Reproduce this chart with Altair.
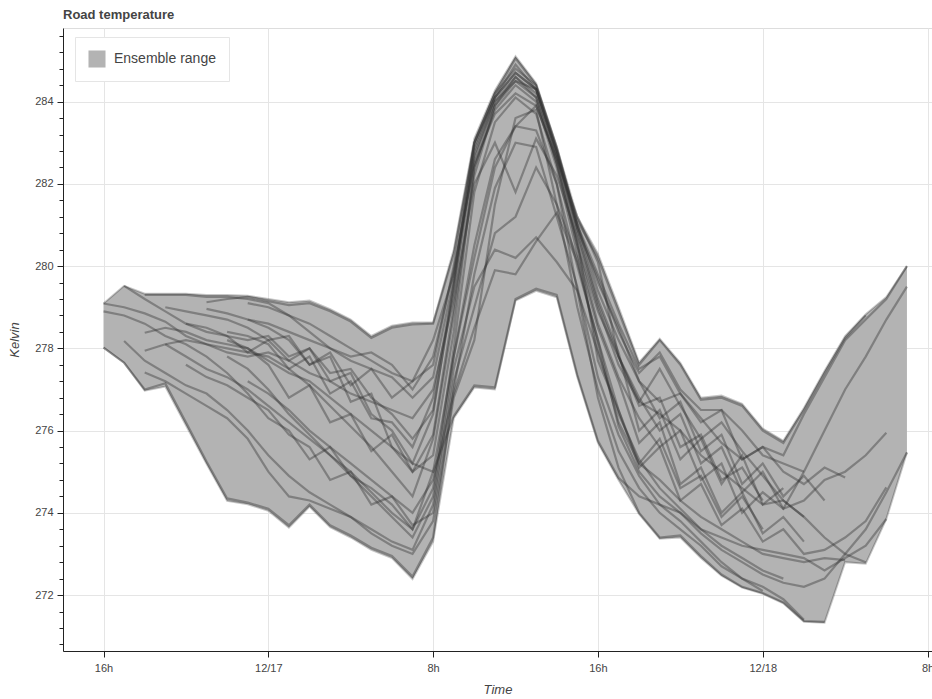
import altair as alt
import pandas as pd

# ---------------- data (hourly, starting 2016-12-16 16:00) ----------------
START = "2016-12-16 16:00"
N_HOURS = 40

band_lo = [278.02, 277.65, 276.97, 277.07, 276.13, 275.19, 274.29, 274.21, 274.05, 273.64,
           274.15, 273.65, 273.40, 273.10, 272.90, 272.39, 273.30, 276.30, 277.05, 277.00,
           279.16, 279.40, 279.24, 277.30, 275.70, 274.80, 273.97, 273.37, 273.40, 272.90,
           272.47, 272.18, 272.03, 271.80, 271.35, 271.33, 272.80, 272.76, 273.85, 275.47]
band_hi = [279.09, 279.52, 279.33, 279.33, 279.33, 279.30, 279.30, 279.28, 279.20, 279.12,
           279.16, 278.95, 278.70, 278.30, 278.55, 278.63, 278.63, 280.40, 283.10, 284.27,
           285.10, 284.45, 282.90, 281.20, 280.30, 279.00, 277.66, 278.23, 277.65, 276.80,
           276.85, 276.65, 276.05, 275.75, 276.55, 277.45, 278.30, 278.83, 279.25, 280.00]

A1 = [279.09, 279.00, 278.85, 278.65, 278.30, 278.10, 278.00, 277.90, 277.80, 277.50, 277.10,
      276.60, 276.10, 275.60, 275.00, 274.40, 275.80, 278.80, 282.20, 283.90, 284.60, 284.10,
      282.50, 280.50, 278.90, 277.80, 276.60, 276.80, 275.60, 275.90, 274.80, 275.10, 274.30]
A2 = [278.90, 278.80, 278.60, 278.30, 278.10, 277.80, 277.40, 276.90, 276.30, 276.00, 275.30,
      275.60, 274.90, 274.60, 274.20, 273.60, 275.00, 277.80, 280.50, 282.60, 283.40, 283.30,
      282.00, 280.00, 278.20, 276.50, 275.20, 275.80, 274.60, 274.90, 273.90, 274.40, 273.60]
A3 = [278.02, 277.65, 277.00, 277.15, 276.20, 275.25, 274.35, 274.25, 274.10, 273.70, 274.20,
      273.70, 273.45, 273.15, 272.95, 272.45, 273.40, 277.00, 279.80, 281.90, 283.00, 282.90,
      281.20, 279.50, 277.30, 275.90, 274.90, 274.20, 273.80, 273.30, 272.80, 272.40, 272.10]
B1 = [279.52, 279.20, 278.90, 278.60, 278.40, 278.30, 277.90, 278.20, 277.70, 278.00, 277.40,
      277.50, 276.80, 276.40, 275.80, 276.50, 279.40, 282.80, 284.10, 284.70, 284.30, 282.80,
      280.90, 279.20, 277.90, 276.00, 276.50, 275.30, 275.80, 274.70, 275.40, 274.20, 274.60]
B2 = [278.18, 277.70, 277.40, 277.10, 276.90, 276.50, 276.00, 275.40, 274.90, 274.50, 274.20,
      273.90, 273.60, 273.30, 273.10, 274.20, 277.50, 279.50, 280.40, 280.20, 280.70, 280.10,
      279.40, 277.90, 276.40, 275.30, 274.60, 274.10, 273.60, 273.20, 272.90, 272.60, 272.40]
C1 = [278.38, 278.50, 278.40, 278.20, 278.10, 278.00, 277.60, 276.80, 277.10, 276.20, 276.40,
      275.50, 275.90, 275.00, 275.40, 278.40, 282.40, 283.80, 284.40, 284.00, 282.40, 280.30,
      278.50, 277.20, 275.70, 276.20, 274.70, 275.10, 274.00, 274.50, 273.50, 273.90, 273.30]
C2 = [277.94, 278.10, 278.20, 278.10, 277.90, 277.80, 277.90, 277.70, 277.40, 277.20, 276.90,
      276.70, 276.50, 276.30, 277.00, 279.20, 282.00, 283.00, 281.80, 283.10, 282.20, 280.70,
      279.00, 277.60, 276.70, 276.40, 276.00, 275.40, 275.00, 274.60, 274.20, 274.30, 273.90]
C3 = [277.41, 277.20, 276.90, 276.60, 276.30, 275.80, 275.00, 274.40, 274.30, 274.10, 273.90,
      273.50, 273.20, 273.00, 273.80, 276.80, 278.20, 281.50, 283.60, 283.80, 281.50, 279.00,
      277.00, 275.50, 274.60, 274.00, 273.60, 273.20, 272.70, 272.40, 272.20, 271.90, 271.40]
C4 = [279.30, 279.30, 279.30, 279.25, 279.25, 279.20, 279.10, 278.80, 278.40, 278.00, 277.70,
      277.50, 277.30, 276.80, 277.30, 279.70, 282.90, 284.10, 284.90, 284.30, 282.70, 280.90,
      279.70, 278.40, 277.40, 277.90, 277.00, 276.50, 276.50, 276.00, 275.40, 275.20, 275.00]
D1 = [279.00, 278.90, 278.80, 278.70, 278.50, 278.20, 278.30, 277.60, 277.90, 277.10, 277.50,
      276.80, 277.20, 278.20, 279.80, 282.60, 284.00, 284.50, 284.30, 282.70, 281.00, 279.60,
      278.50, 277.20, 276.30, 276.70, 275.50, 275.90, 274.70, 275.20, 274.40, 274.90, 274.30]
D2 = [278.10, 277.80, 277.50, 277.30, 277.00, 276.60, 276.20, 275.80, 275.40, 275.00, 274.50,
      274.00, 273.60, 274.60, 278.00, 281.80, 283.50, 284.10, 283.70, 282.00, 279.40, 276.80,
      275.10, 274.00, 273.40, 273.45, 272.95, 272.50, 272.20, 272.05, 271.82, 271.37, 271.35]
E1 = [278.60, 278.50, 278.30, 278.20, 278.30, 277.80, 278.00, 277.20, 277.40, 276.40, 276.00,
      275.20, 276.40, 279.60, 283.00, 284.20, 284.80, 284.40, 282.90, 281.00, 279.40, 278.20,
      277.20, 276.70, 276.90, 276.30, 275.70, 275.30, 275.60, 275.00, 274.70, 275.10, 274.86]
E2 = [277.60, 277.30, 277.10, 276.80, 276.50, 275.90, 275.60, 274.80, 275.00, 274.20, 274.40,
      273.70, 274.00, 277.20, 279.00, 280.80, 281.20, 282.40, 281.50, 280.20, 278.00, 276.20,
      275.20, 274.80, 274.30, 273.90, 273.60, 273.30, 273.00, 272.90, 272.80, 272.90, 272.85]
F1 = [279.12, 279.20, 279.25, 279.15, 279.05, 279.10, 278.90, 278.65, 278.25, 278.50, 278.58,
      278.60, 280.30, 283.00, 284.20, 285.05, 284.40, 282.85, 281.10, 280.20, 278.90, 277.60,
      278.20, 277.60, 276.75, 276.80, 276.60, 276.00, 275.70, 276.50, 277.40, 278.25, 278.80]
F2 = [278.96, 278.85, 278.70, 278.60, 278.40, 278.20, 278.00, 277.80, 277.90, 277.60, 277.00,
      277.80, 279.90, 282.50, 283.70, 284.20, 283.90, 282.60, 281.20, 280.10, 277.80, 276.70,
      277.50, 276.60, 275.80, 276.20, 275.50, 274.90, 274.30, 273.90, 273.40, 273.00, 272.80]
G1 = [278.40, 278.30, 278.10, 277.50, 277.80, 276.90, 277.20, 276.30, 276.20, 275.60, 276.80,
      279.50, 282.70, 284.00, 284.60, 284.20, 282.70, 280.80, 279.10, 277.80, 276.80, 276.00,
      276.40, 275.20, 275.60, 274.50, 275.00, 274.10, 274.30, 274.80, 275.00, 275.40, 275.95]
G2 = [277.80, 277.50, 277.00, 276.40, 275.90, 275.40, 274.90, 274.40, 273.90, 273.40, 274.40,
      277.80, 280.20, 282.40, 283.40, 283.90, 282.60, 280.60, 277.70, 276.50, 275.10, 275.60,
      274.30, 274.70, 273.70, 274.10, 273.30, 273.60, 273.00, 273.10, 273.40, 273.80, 274.62]
G3 = [278.20, 278.00, 277.70, 277.40, 277.20, 276.80, 276.40, 276.00, 275.60, 275.20, 275.00,
      276.35, 277.10, 277.05, 279.20, 279.45, 279.30, 277.35, 275.75, 274.85, 274.40, 274.20,
      274.00, 273.60, 273.40, 273.20, 273.10, 273.00, 272.90, 272.60, 272.90, 273.20, 273.85]
H1 = [279.10, 279.00, 278.80, 278.60, 278.30, 278.00, 277.70, 277.40, 277.20, 277.60, 280.00,
      283.00, 284.10, 284.70, 284.30, 282.80, 281.00, 279.80, 278.60, 277.50, 277.80, 276.90,
      276.20, 276.50, 275.30, 275.60, 275.40, 276.40, 277.30, 278.20, 278.70, 279.20, 280.00]
H2 = [278.70, 278.50, 278.20, 277.60, 277.80, 276.70, 276.90, 275.60, 275.00, 275.90, 279.00,
      282.40, 283.90, 284.50, 284.10, 282.50, 280.50, 278.60, 277.30, 276.30, 275.60, 276.00,
      274.80, 275.20, 274.00, 274.50, 274.10, 275.00, 276.00, 277.00, 277.80, 278.70, 279.50]
H3 = [277.20, 276.90, 276.50, 276.00, 275.60, 275.20, 274.80, 274.40, 274.00, 274.80, 276.90,
      278.50, 279.90, 279.80, 280.60, 281.30, 280.10, 278.20, 276.10, 275.00, 274.40, 274.00,
      273.50, 273.10, 272.80, 272.50, 272.30, 272.20, 272.40, 273.00, 273.60, 274.50, 275.47]

member_names = ["A1", "A2", "A3", "B1", "B2", "C1", "C2", "C3", "C4", "D1", "D2",
                "E1", "E2", "F1", "F2", "G1", "G2", "G3", "H1", "H2", "H3"]
member_starts = [0, 0, 0, 1, 1, 2, 2, 2, 2, 3, 3, 4, 4, 5, 5, 6, 6, 6, 7, 7, 7]
member_values = [A1, A2, A3, B1, B2, C1, C2, C3, C4, D1, D2,
                 E1, E2, F1, F2, G1, G2, G3, H1, H2, H3]

x_tick_values = [
    alt.DateTime(year=2016, month=12, date=16, hours=16),
    alt.DateTime(year=2016, month=12, date=17, hours=0),
    alt.DateTime(year=2016, month=12, date=17, hours=8),
    alt.DateTime(year=2016, month=12, date=17, hours=16),
    alt.DateTime(year=2016, month=12, date=18, hours=0),
    alt.DateTime(year=2016, month=12, date=18, hours=8),
]
y_tick_values = [round(270.8 + 0.4 * i, 1) for i in range(38)]

# ---------------- tables ----------------
times = [t.strftime("%Y-%m-%dT%H:%M:%S") for t in pd.date_range(START, periods=N_HOURS, freq="h")]

band_df = pd.DataFrame({"time": times, "lo": band_lo, "hi": band_hi,
                        "label": ["Ensemble range"] * N_HOURS})
edge_df = pd.concat([
    pd.DataFrame({"time": times, "value": band_lo, "edge": "lo"}),
    pd.DataFrame({"time": times, "value": band_hi, "edge": "hi"}),
])
rows = []
for name, s, vals in zip(member_names, member_starts, member_values):
    for k, v in enumerate(vals):
        rows.append({"member": name, "time": times[s + k], "value": v})
mem_df = pd.DataFrame(rows)

# ---------------- encodings ----------------
FONT = "Liberation Sans"
MAJOR = "abs(datum.value - 2 * round(datum.value / 2)) < 0.05"

x_scale = alt.Scale(domain=[alt.DateTime(year=2016, month=12, date=16, hours=14, minutes=2),
                            alt.DateTime(year=2016, month=12, date=18, hours=8, minutes=13)])
x_axis = alt.Axis(
    values=x_tick_values,
    labelExpr="hours(datum.value) == 0 ? timeFormat(datum.value, '%m/%d') : timeFormat(datum.value, '%-Hh')",
    title="Time", titleFontStyle="italic", titleFontWeight="normal", titleFontSize=13,
    titleColor="#444444", titleFont=FONT, titlePadding=10,
    labelFont=FONT, labelFontSize=11, labelColor="#444444", labelPadding=5,
    labelOverlap=False, labelFlush=False,
    tickSize=6, tickColor="#222222", domainColor="#222222",
    grid=True, gridColor="#e5e5e5",
)
y_scale = alt.Scale(domain=[270.64, 285.79], zero=False, nice=False)
y_axis = alt.Axis(
    values=y_tick_values,
    labelExpr=f"({MAJOR}) ? format(datum.value, '.0f') : ''",
    title="Kelvin", titleFontStyle="italic", titleFontWeight="normal", titleFontSize=13,
    titleColor="#444444", titleFont=FONT, titlePadding=13,
    labelFont=FONT, labelFontSize=11, labelColor="#444444", labelPadding=4,
    labelOverlap=False, labelFlush=False,
    tickSize={"condition": {"test": MAJOR, "value": 6}, "value": 4},
    tickColor="#222222", domainColor="#222222",
    grid=True, gridColor="#e5e5e5",
    gridOpacity={"condition": {"test": MAJOR, "value": 1}, "value": 0},
)

X = alt.X("time:T", scale=x_scale, axis=x_axis)

band = alt.Chart(band_df).mark_area(opacity=1).encode(
    x=X,
    y=alt.Y("lo:Q", scale=y_scale, axis=y_axis),
    y2="hi:Q",
    color=alt.Color("label:N", scale=alt.Scale(range=["#b3b3b3"]),
                    legend=alt.Legend(title=None, orient="none", legendX=12, legendY=9,
                                      fillColor="white", strokeColor="#e5e5e5", padding=13,
                                      symbolType="square", symbolSize=290, symbolStrokeWidth=0,
                                      symbolOpacity=1, labelFont=FONT, labelFontSize=14,
                                      labelColor="#444444", labelOffset=8)),
)

edges = alt.Chart(edge_df).mark_line(color="#000000", opacity=0.22, strokeWidth=2).encode(
    x=X,
    y=alt.Y("value:Q", scale=y_scale, axis=y_axis),
    detail="edge:N",
)

members = alt.Chart(mem_df).mark_line(color="#333333", opacity=0.4, strokeWidth=2.2).encode(
    x=X,
    y=alt.Y("value:Q", scale=y_scale, axis=y_axis),
    detail="member:N",
)

chart = alt.layer(band, edges, members).properties(
    width=869, height=623,
    title=alt.TitleParams("Road temperature", anchor="start", frame="group", fontSize=13,
                          fontWeight="bold", color="#444444", font=FONT, offset=6),
    autosize=alt.AutoSizeParams(type="none"),
    padding={"left": 63, "top": 28, "right": 0, "bottom": 48},
).configure_view(stroke="#e5e5e5", strokeWidth=1).configure(font=FONT)

chart.save("out.html", embed_options={"renderer": "svg", "actions": False})
